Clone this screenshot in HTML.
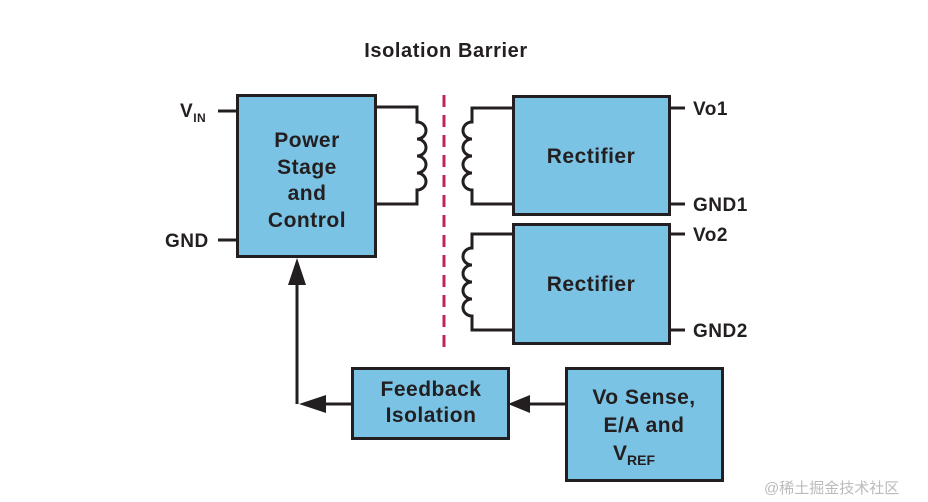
<!DOCTYPE html>
<html><head><style>
body{margin:0;background:#fff;}
svg{display:block;}
text{font-family:"Liberation Sans",sans-serif;font-weight:bold;fill:#231f20;}
</style></head><body>
<svg width="928" height="502" viewBox="0 0 928 502">
<g stroke="#231f20" stroke-width="3" fill="none">
<path d="M376,107 H417 V122 a9,8.5 0 0 1 0,17 a9,8.5 0 0 1 0,17 a9,8.5 0 0 1 0,17 a9,8.5 0 0 1 0,17 V204 H376"/>
<path d="M513,108 H472 V122 a9,8.5 0 0 0 0,17 a9,8.5 0 0 0 0,17 a9,8.5 0 0 0 0,17 a9,8.5 0 0 0 0,17 V204 H513"/>
<path d="M513,234 H472 V248 a9,8.5 0 0 0 0,17 a9,8.5 0 0 0 0,17 a9,8.5 0 0 0 0,17 a9,8.5 0 0 0 0,17 V330 H513"/>
<path d="M218,111 H237 M218,240 H237 M669,108 H685 M669,204 H685 M669,234 H685 M669,330 H685"/>
<path d="M566,404 H525 M352,404 H312 M297,404 V280"/>
</g>
<line x1="444" y1="95" x2="444" y2="355" stroke="#c0245a" stroke-width="3" stroke-dasharray="12,8"/>
<g fill="#231f20">
<polygon points="508,404 530,395 530,413"/>
<polygon points="299,404 326,395 326,413"/>
<polygon points="297,258 288,285 306,285"/>
</g>
<g fill="#7ac3e4" stroke="#231f20" stroke-width="3">
<rect x="237.5" y="95.5" width="138" height="161"/>
<rect x="513.5" y="96.5" width="156" height="118"/>
<rect x="513.5" y="224.5" width="156" height="119"/>
<rect x="352.5" y="368.5" width="156" height="70"/>
<rect x="566.5" y="368.5" width="156" height="112"/>
</g>
<text x="446" y="57" font-size="20" letter-spacing="0.6" text-anchor="middle">Isolation Barrier</text>
<g font-size="21" letter-spacing="0.5" text-anchor="middle">
<text x="307" y="147">Power</text>
<text x="307" y="174">Stage</text>
<text x="307" y="200">and</text>
<text x="307" y="227">Control</text>
<text x="591" y="163">Rectifier</text>
<text x="591" y="291">Rectifier</text>
<text x="431" y="396">Feedback</text>
<text x="431" y="422">Isolation</text>
<text x="644" y="404">Vo Sense,</text>
<text x="644" y="432">E/A and</text>
</g>
<text x="613" y="460" font-size="21">V<tspan font-size="14" dy="5">REF</tspan></text>
<g font-size="19" letter-spacing="0.5">
<text x="180" y="117">V<tspan font-size="12" dy="5">IN</tspan></text>
<text x="165" y="247">GND</text>
<text x="693" y="115">Vo1</text>
<text x="693" y="211">GND1</text>
<text x="693" y="241">Vo2</text>
<text x="693" y="337">GND2</text>
</g>
<text x="764" y="493" font-size="15" style="font-weight:normal;fill:#bbb;font-family:'Liberation Sans','Noto Sans CJK SC',sans-serif">@稀土掘金技术社区</text>
</svg>
</body></html>
